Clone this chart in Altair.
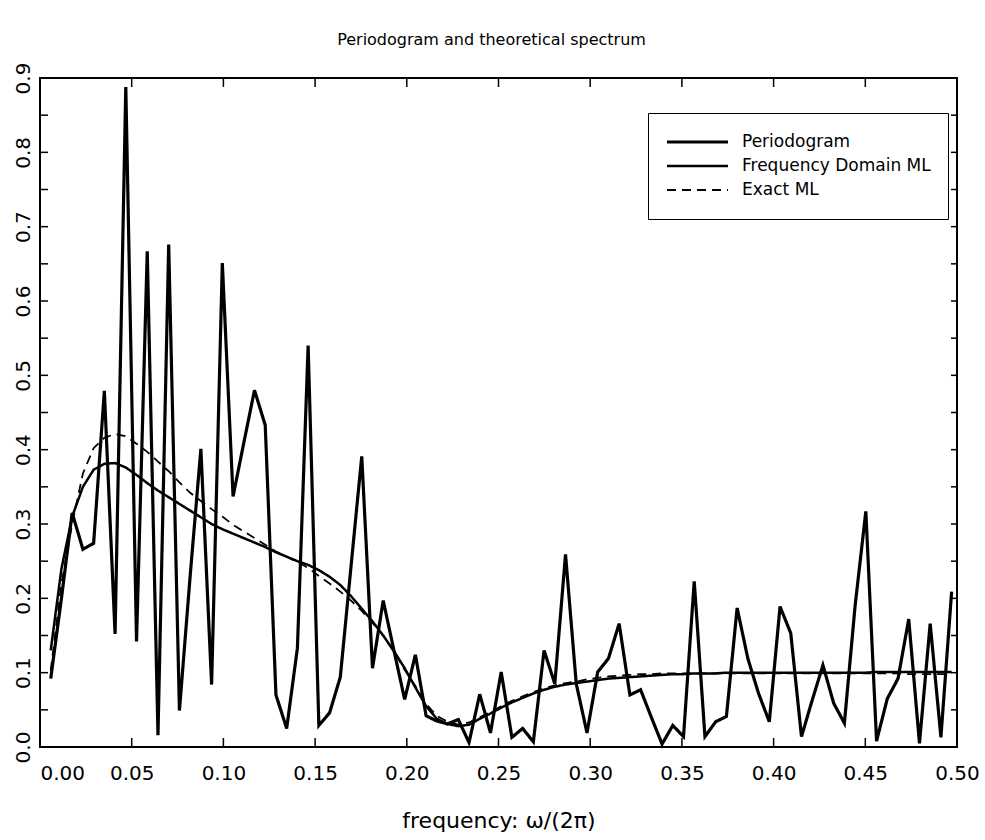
import altair as alt
import pandas as pd

# ---------------- data ----------------
N_OBS = 171  # Fourier frequencies j / N_OBS, j = 1..85
series_names = ["Periodogram", "Frequency Domain ML", "Exact ML"]

periodogram = [0.092, 0.200, 0.315, 0.266, 0.274, 0.479, 0.152, 0.888, 0.142, 0.667,
               0.016, 0.676, 0.049, 0.230, 0.401, 0.084, 0.651, 0.337, 0.409, 0.480,
               0.433, 0.070, 0.025, 0.133, 0.540, 0.029, 0.046, 0.094, 0.243, 0.391,
               0.106, 0.197, 0.130, 0.064, 0.124, 0.042, 0.035, 0.031, 0.037, 0.006,
               0.071, 0.019, 0.101, 0.013, 0.025, 0.007, 0.130, 0.085, 0.259, 0.085,
               0.019, 0.101, 0.119, 0.166, 0.070, 0.077, 0.040, 0.004, 0.029, 0.014,
               0.223, 0.014, 0.034, 0.041, 0.187, 0.119, 0.072, 0.034, 0.189, 0.153,
               0.014, 0.063, 0.110, 0.059, 0.032, 0.190, 0.317, 0.008, 0.065, 0.092,
               0.172, 0.005, 0.166, 0.013, 0.209]

freq_ml = [0.130, 0.240, 0.310, 0.350, 0.373, 0.381, 0.382, 0.376, 0.366, 0.355,
           0.345, 0.336, 0.327, 0.318, 0.309, 0.300, 0.293, 0.287, 0.281, 0.275,
           0.269, 0.262, 0.256, 0.250, 0.245, 0.238, 0.229, 0.218, 0.203, 0.186,
           0.169, 0.150, 0.129, 0.106, 0.080, 0.055, 0.038, 0.031, 0.028, 0.030,
           0.038, 0.045, 0.053, 0.060, 0.066, 0.072, 0.077, 0.081, 0.084, 0.086,
           0.088, 0.090, 0.092, 0.093, 0.094, 0.095, 0.096, 0.097, 0.098, 0.098,
           0.099, 0.099, 0.099, 0.100, 0.100, 0.100, 0.100, 0.100, 0.100, 0.100,
           0.100, 0.100, 0.100, 0.100, 0.100, 0.100, 0.100, 0.101, 0.101, 0.101,
           0.101, 0.101, 0.101, 0.101, 0.101]

exact_ml = [0.103, 0.220, 0.300, 0.368, 0.402, 0.416, 0.421, 0.418, 0.408, 0.397,
            0.384, 0.371, 0.356, 0.342, 0.331, 0.320, 0.310, 0.299, 0.290, 0.281,
            0.272, 0.263, 0.256, 0.249, 0.241, 0.230, 0.220, 0.209, 0.197, 0.183,
            0.167, 0.150, 0.128, 0.104, 0.082, 0.058, 0.042, 0.034, 0.030, 0.033,
            0.040, 0.047, 0.055, 0.062, 0.068, 0.074, 0.079, 0.083, 0.086, 0.088,
            0.091, 0.093, 0.095, 0.096, 0.097, 0.098, 0.098, 0.099, 0.099, 0.099,
            0.099, 0.099, 0.099, 0.099, 0.099, 0.099, 0.099, 0.099, 0.099, 0.099,
            0.099, 0.099, 0.099, 0.099, 0.099, 0.099, 0.099, 0.099, 0.099, 0.099,
            0.098, 0.098, 0.098, 0.098, 0.098]

x_tick_values = [0.00, 0.05, 0.10, 0.15, 0.20, 0.25, 0.30, 0.35, 0.40, 0.45, 0.50]
y_label_values = [0.0, 0.1, 0.2, 0.3, 0.4, 0.5, 0.6, 0.7, 0.8, 0.9]
y_tick_values = [0.05, 0.10, 0.15, 0.20, 0.25, 0.30, 0.35, 0.40, 0.45, 0.50,
                 0.55, 0.60, 0.65, 0.70, 0.75, 0.80, 0.85]

freqs = [j / N_OBS for j in range(1, len(periodogram) + 1)]

rows = []
for name, vals in zip(series_names, [periodogram, freq_ml, exact_ml]):
    for order, (f, v) in enumerate(zip(freqs, vals)):
        rows.append({"series": name, "freq": f, "value": v, "order": order})
df = pd.DataFrame(rows)

xt = pd.DataFrame({"t": x_tick_values[1:-1]})
yt = pd.DataFrame({"t": y_tick_values})

FONT = "DejaVu Sans"
W, H = 917, 669

xscale = alt.Scale(domain=[0, 0.5], nice=False, zero=False)
yscale = alt.Scale(domain=[0, 0.9], nice=False, zero=False)

lines = alt.Chart(df).mark_line(color="black").encode(
    x=alt.X("freq:Q", scale=xscale,
            axis=alt.Axis(values=x_tick_values, format=".2f", tickSize=0, domain=False,
                          grid=False, labelFont=FONT, labelFontSize=20, labelColor="black",
                          labelFlush=False, labelBaseline="middle", labelPadding=26,
                          labelAlign={"condition": {"test": "datum.value == 0", "value": "left"},
                                      "value": "center"},
                          title="frequency: ω/(2π)", titleFont=FONT, titleFontSize=22,
                          titleFontWeight="normal", titleColor="black",
                          titleBaseline="middle", titleY=73)),
    y=alt.Y("value:Q", scale=yscale,
            axis=alt.Axis(values=y_label_values, format=".1f", tickSize=0, domain=False,
                          grid=False, labelFont=FONT, labelFontSize=20, labelColor="black",
                          labelAngle=270, labelAlign="center", labelBaseline="middle",
                          labelPadding=17, labelFlush=False, title=None)),
    order="order:Q",
    strokeDash=alt.StrokeDash(
        "series:N",
        scale=alt.Scale(domain=series_names, range=[[1, 0], [1, 0], [9, 6]]),
        legend=alt.Legend(title=None, orient="none", legendX=608, legendY=35,
                          symbolType="stroke", symbolSize=3721, symbolStrokeWidth=2,
                          symbolStrokeColor="black", labelFont=FONT, labelFontSize=17,
                          labelColor="black", labelOffset=12, labelLimit=400,
                          fillColor="white", strokeColor="black", padding=17,
                          clipHeight=24, rowPadding=0)),
    strokeWidth=alt.StrokeWidth(
        "series:N",
        scale=alt.Scale(domain=series_names, range=[3.2, 1.8, 2.2]),
        legend=None),
)

bottom_ticks = alt.Chart(xt).mark_rule(color="black", strokeWidth=1.5).encode(
    x=alt.X("t:Q", scale=xscale), y=alt.value(H), y2=alt.value(H - 9))
top_ticks = alt.Chart(xt).mark_rule(color="black", strokeWidth=1.5).encode(
    x=alt.X("t:Q", scale=xscale), y=alt.value(0), y2=alt.value(9))
left_ticks = alt.Chart(yt).mark_rule(color="black", strokeWidth=1.5).encode(
    y=alt.Y("t:Q", scale=yscale), x=alt.value(0), x2=alt.value(8))
right_ticks = alt.Chart(yt).mark_rule(color="black", strokeWidth=1.5).encode(
    y=alt.Y("t:Q", scale=yscale), x=alt.value(W), x2=alt.value(W - 6))

chart = alt.layer(lines, bottom_ticks, top_ticks, left_ticks, right_ticks).properties(
    width=W, height=H,
    background="white",
    title=alt.TitleParams("Periodogram and theoretical spectrum", font=FONT, fontSize=16,
                          fontWeight="normal", color="black", anchor="middle",
                          dx=-7, offset=14),
    autosize=alt.AutoSizeParams(type="none"),
    padding={"left": 40, "top": 78, "right": 28, "bottom": 93},
).configure_view(stroke="black", strokeWidth=2)

chart.save("out.html", embed_options={"renderer": "svg", "actions": False})
